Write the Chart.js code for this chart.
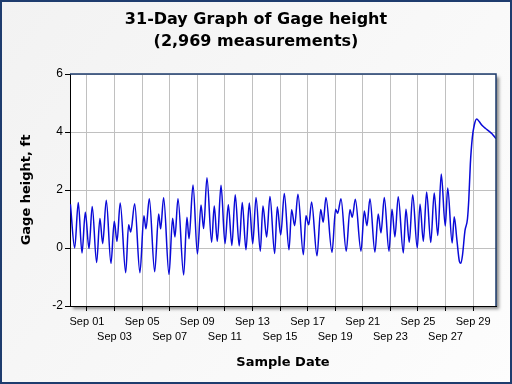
<!DOCTYPE html>
<html lang="en">
  <head>
    <meta charset="UTF-8" />
    <script src="https://cdn.jsdelivr.net/npm/chart.js"></script>
    <title>31-Day Graph of Gage height</title>
    <style>
      html, body { margin: 0; padding: 0; background: #fff; }
      #wrap { width: 512px; height: 384px; }
    </style>
  </head>
  <body>
    <div id="wrap"><canvas id="gageChart" width="512" height="384"></canvas></div>
    <script>
      // sample time in days from Sep 01 00:00, read at each turning point of the trace
      const sampleDays = [
        -1.2, -0.89, -0.63, -0.36, -0.12, 0.15, 0.38, 0.70, 0.94, 1.14,
        1.40, 1.74, 1.98, 2.18, 2.41, 2.81, 3.02, 3.17, 3.46, 3.84,
        4.13, 4.28, 4.52, 4.91, 5.20, 5.34, 5.56, 5.95, 6.21, 6.38,
        6.60, 7.01, 7.25, 7.40, 7.69, 8.01, 8.27, 8.46, 8.70, 9.04,
        9.23, 9.45, 9.72, 10.01, 10.25, 10.51, 10.75, 11.04, 11.26, 11.53,
        11.77, 12.02, 12.26, 12.57, 12.76, 13.03, 13.27, 13.61, 13.80, 14.05,
        14.31, 14.65, 14.84, 15.06, 15.30, 15.69, 15.88, 16.08, 16.29, 16.68,
        16.95, 17.13, 17.33, 17.77, 18.03, 18.18, 18.42, 18.80, 19.07, 19.24,
        19.46, 19.87, 20.11, 20.30, 20.52, 20.88, 21.12, 21.32, 21.56, 21.90,
        22.12, 22.33, 22.57, 22.94, 23.13, 23.37, 23.62, 23.95, 24.15, 24.39,
        24.63, 24.93, 25.18, 25.44, 25.69, 25.98, 26.16, 26.48, 26.63, 26.82,
        27.01, 27.11, 27.23, 27.41, 27.59, 27.69, 27.80, 27.94, 28.09, 28.26,
        28.44, 28.66, 28.90, 29.15, 29.37, 29.51, 29.66
      ];
      // gage height, ft
      const gageHeight = [
        1.51, 0.00, 1.57, -0.17, 1.23, -0.02, 1.43, -0.50, 1.02, 0.15,
        1.65, -0.53, 0.92, 0.23, 1.55, -0.85, 0.80, 0.55, 1.53, -0.85,
        1.11, 0.66, 1.70, -0.82, 1.17, 0.66, 1.73, -0.91, 1.03, 0.38,
        1.70, -0.93, 1.06, 0.32, 2.17, -0.21, 1.48, 0.67, 2.42, 0.20,
        1.45, 0.23, 2.16, 0.15, 1.49, 0.09, 1.84, 0.07, 1.57, -0.06,
        1.55, 0.15, 1.74, -0.11, 1.45, 0.38, 1.78, -0.19, 1.42, 0.45,
        1.88, -0.06, 1.32, 0.77, 1.85, -0.23, 1.11, 0.80, 1.59, -0.27,
        1.33, 0.89, 1.74, -0.15, 1.34, 1.20, 1.70, -0.11, 1.32, 1.06,
        1.68, -0.11, 1.28, 0.77, 1.70, -0.14, 1.17, 0.52, 1.74, -0.11,
        1.34, 0.38, 1.77, -0.17, 1.34, 0.20, 1.84, 0.00, 1.51, 0.23,
        1.93, 0.19, 1.90, 0.43, 2.55, 0.76, 2.07, 0.17, 1.08, 0.30,
        -0.47, -0.53, -0.25, 0.60, 1.00, 1.70, 2.90, 3.80, 4.25, 4.45,
        4.36, 4.22, 4.12, 4.03, 3.94, 3.86, 3.77
      ];
      const dateTicks = [0, 2, 4, 6, 8, 10, 12, 14, 16, 18, 20, 22, 24, 26, 28];
      const dateLabels = ['Sep 01', 'Sep 03', 'Sep 05', 'Sep 07', 'Sep 09', 'Sep 11', 'Sep 13', 'Sep 15',
                          'Sep 17', 'Sep 19', 'Sep 21', 'Sep 23', 'Sep 25', 'Sep 27', 'Sep 29'];
      const yTicks = [-2, 0, 2, 4, 6];

      const navy = '#1e3c6e';

      // background, outer frame and plot shadow
      const framePlugin = {
        id: 'frame',
        beforeDraw(chart) {
          const { ctx, chartArea: a, width, height } = chart;
          ctx.save();
          const g = ctx.createLinearGradient(0, 0, width, height);
          g.addColorStop(0, '#f2f2f2');
          g.addColorStop(1, '#fdfdfd');
          ctx.fillStyle = g;
          ctx.fillRect(0, 0, width, height);
          ctx.strokeStyle = navy;
          ctx.lineWidth = 2;
          ctx.strokeRect(1, 1, width - 2, height - 2);
          ctx.shadowColor = 'rgba(0,0,0,0.45)';
          ctx.shadowOffsetX = 3;
          ctx.shadowOffsetY = 3;
          ctx.shadowBlur = 3;
          ctx.fillStyle = '#fff';
          ctx.fillRect(a.left, a.top, a.right - a.left, a.bottom - a.top);
          ctx.restore();
        },
        afterDraw(chart) {
          const { ctx, chartArea: a } = chart;
          ctx.save();
          ctx.strokeStyle = navy;
          ctx.lineWidth = 1.5;
          ctx.beginPath();
          ctx.moveTo(a.left, a.top);
          ctx.lineTo(a.right, a.top);
          ctx.lineTo(a.right, a.bottom);
          ctx.stroke();
          ctx.restore();
        }
      };

      const points = sampleDays.map((d, i) => ({ x: d, y: gageHeight[i] }));

      new Chart(document.getElementById('gageChart'), {
        type: 'line',
        data: {
          datasets: [{
            data: points,
            borderColor: '#0a0ad8',
            borderWidth: 1.5,
            pointRadius: 0,
            fill: false,
            cubicInterpolationMode: 'monotone'
          }]
        },
        options: {
          responsive: false,
          devicePixelRatio: 1,
          animation: false,
          layout: { padding: { left: 16, right: 16, top: 0, bottom: 0 } },
          plugins: {
            legend: { display: false },
            tooltip: { enabled: false },
            title: {
              display: true,
              text: ['31-Day Graph of Gage height', '(2,969 measurements)'],
              color: '#000',
              font: { family: 'DejaVu Sans', weight: 'bold', size: 16, lineHeight: 1.375 },
              padding: { top: 9, bottom: 21 }
            }
          },
          scales: {
            x: {
              type: 'linear',
              min: -1.23,
              max: 29.66,
              afterBuildTicks: (scale) => { scale.ticks = dateTicks.map(v => ({ value: v })); },
              afterFit: (scale) => { scale.height = 78; },
              ticks: {
                autoSkip: false,
                maxRotation: 0,
                padding: 3,
                color: '#000',
                font: { family: 'Liberation Sans', size: 11, lineHeight: 1.4 },
                callback: (value, index) => index % 2 === 0 ? dateLabels[index] : ['', dateLabels[index]]
              },
              grid: { color: '#c0c0c0', tickColor: '#000', tickLength: 5 },
              border: { color: '#000', width: 1 },
              title: {
                display: true,
                text: 'Sample Date',
                color: '#000',
                font: { family: 'DejaVu Sans', weight: 'bold', size: 13 },
                padding: { top: 0, bottom: 14 }
              }
            },
            y: {
              min: -2,
              max: 6,
              afterBuildTicks: (scale) => { scale.ticks = yTicks.map(v => ({ value: v })); },
              afterFit: (scale) => { scale.width = 54; },
              ticks: {
                padding: 2,
                color: '#000',
                font: { family: 'Liberation Sans', size: 12 }
              },
              grid: { color: '#c0c0c0', tickColor: '#000', tickLength: 5 },
              border: { color: '#000', width: 1 },
              title: {
                display: true,
                text: 'Gage height, ft',
                color: '#000',
                font: { family: 'DejaVu Sans', weight: 'bold', size: 13 },
                padding: { top: 3, bottom: 0 }
              }
            }
          }
        },
        plugins: [framePlugin]
      });
    </script>
  </body>
</html>
